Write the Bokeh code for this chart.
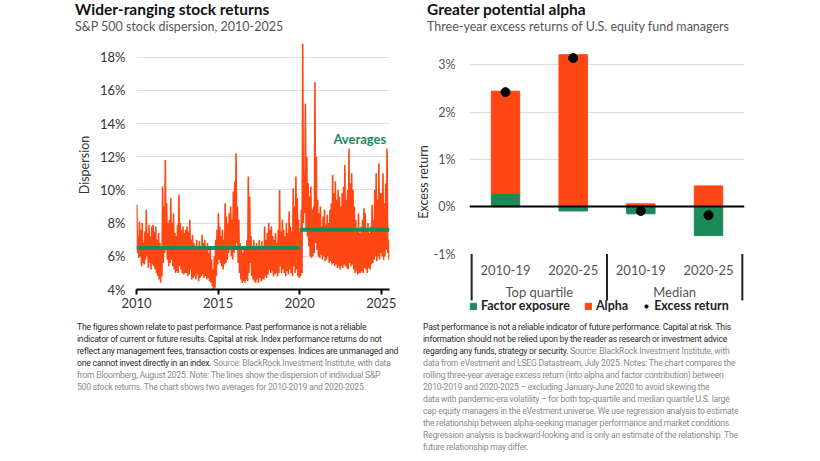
from bokeh.plotting import figure
from bokeh.models import (Range1d, FactorRange, FixedTicker, PrintfTickFormatter, Label,
                          Legend, LegendItem, Div, Spacer)
from bokeh.layouts import row, column
from bokeh.embed import file_html
from bokeh.resources import INLINE
from bokeh.core.properties import value

ORANGE = "#FF4713"
GREEN = "#1A8A5A"
FONT = "Lato"
TXT = "#333333"

# ---------------- Left chart data: S&P 500 dispersion (%), monthly high / low ----------------
hi_2010 = [9.1, 7.2, 8.1, 7.6, 8.0, 6.8, 7.5, 8.8, 7.4, 7.9, 7.2, 7.8]
lo_2010 = [6.2, 5.9, 6.0, 5.4, 5.6, 5.5, 5.8, 6.0, 5.3, 5.6, 5.2, 5.5]
hi_2011 = [7.9, 7.5, 7.8, 7.0, 7.4, 6.8, 6.5, 10.2, 9.0, 11.8, 9.2, 8.0]
lo_2011 = [5.4, 5.2, 5.0, 4.8, 4.6, 4.4, 4.8, 5.6, 6.2, 6.5, 5.8, 5.4]
hi_2012 = [8.2, 9.5, 8.0, 8.6, 7.4, 7.2, 7.9, 9.7, 8.0, 7.6, 7.8, 7.4]
lo_2012 = [5.6, 5.8, 5.4, 5.2, 5.0, 5.1, 5.0, 5.4, 5.2, 5.0, 4.9, 5.0]
hi_2013 = [7.6, 7.8, 7.5, 8.2, 7.0, 7.3, 6.8, 6.6, 7.0, 6.5, 6.9, 6.4]
lo_2013 = [5.0, 4.8, 4.9, 5.2, 4.6, 4.7, 4.8, 4.6, 4.9, 4.5, 4.7, 4.8]
hi_2014 = [7.3, 6.8, 7.0, 6.5, 6.8, 6.2, 6.6, 5.8, 5.2, 6.0, 7.0, 7.6]
lo_2014 = [4.9, 4.7, 4.8, 4.6, 4.7, 4.5, 4.4, 4.2, 4.0, 4.1, 4.8, 5.5]
hi_2015 = [8.6, 7.8, 7.2, 7.6, 7.0, 9.2, 8.4, 8.0, 8.6, 9.0, 8.2, 9.9]
lo_2015 = [5.8, 5.6, 5.4, 5.2, 5.5, 5.6, 5.8, 6.2, 6.4, 6.0, 5.8, 6.2]
hi_2016 = [10.5, 12.2, 9.0, 8.2, 6.8, 6.5, 6.2, 6.6, 6.4, 7.0, 10.8, 9.6]
lo_2016 = [6.5, 6.8, 5.6, 5.0, 4.6, 4.4, 4.5, 4.4, 4.6, 4.5, 5.0, 5.6]
hi_2017 = [7.2, 6.6, 7.0, 6.5, 6.8, 6.4, 7.0, 6.6, 6.9, 6.5, 7.8, 7.0]
lo_2017 = [4.8, 4.6, 4.5, 4.4, 4.6, 4.4, 4.7, 4.5, 4.6, 4.6, 4.8, 4.7]
hi_2018 = [7.4, 8.0, 7.6, 7.8, 7.2, 7.0, 7.4, 6.8, 7.6, 10.0, 7.5, 8.2]
lo_2018 = [4.9, 5.2, 5.0, 5.1, 4.8, 4.9, 5.0, 4.8, 5.0, 5.4, 5.0, 5.2]
hi_2019 = [7.6, 7.2, 8.0, 7.4, 8.7, 7.8, 7.5, 10.1, 9.0, 10.8, 9.5, 8.2]
lo_2019 = [5.0, 4.8, 5.1, 4.9, 5.2, 5.0, 4.8, 5.4, 5.0, 5.2, 4.8, 4.7]
hi_2020 = [7.5, 8.8, 18.8, 11.0, 15.2, 12.0, 10.4, 9.6, 10.2, 8.8, 9.0, 16.5]
lo_2020 = [4.8, 5.0, 8.0, 8.6, 7.6, 7.2, 6.6, 6.0, 5.9, 6.0, 6.2, 6.8]
hi_2021 = [12.0, 9.4, 8.6, 9.0, 7.8, 8.4, 8.8, 7.9, 8.5, 8.0, 8.8, 9.2]
lo_2021 = [6.4, 6.0, 5.9, 6.1, 5.8, 6.0, 5.7, 5.8, 6.0, 5.6, 5.7, 5.5]
hi_2022 = [10.9, 9.8, 10.5, 9.4, 10.0, 9.6, 9.0, 9.8, 10.2, 11.5, 9.4, 10.0]
lo_2022 = [5.6, 5.4, 5.5, 5.3, 5.4, 5.2, 5.4, 5.3, 5.5, 5.4, 5.3, 5.2]
hi_2023 = [12.5, 10.4, 11.0, 10.0, 9.0, 8.2, 7.6, 8.6, 7.4, 7.8, 8.2, 8.9]
lo_2023 = [5.6, 5.4, 5.5, 5.2, 5.0, 5.1, 4.9, 5.0, 5.0, 5.1, 5.0, 5.3]
hi_2024 = [8.6, 7.6, 8.0, 7.4, 7.8, 9.1, 8.2, 10.0, 11.0, 9.4, 11.6, 9.8]
lo_2024 = [5.2, 5.0, 5.3, 5.2, 5.5, 5.6, 5.8, 6.0, 5.7, 6.0, 5.8, 6.2]
hi_2025 = [9.8, 11.0, 9.2, 10.4, 12.5, 7.0]
lo_2025 = [6.0, 5.8, 6.0, 6.4, 6.2, 5.8]

avg_start = [2010, 2020]
avg_end = [2020, 2025.5]
avg_value = [6.5, 7.6]

year_ticks = [2010, 2015, 2020, 2025]
disp_ticks = [4, 6, 8, 10, 12, 14, 16, 18]

# ---------------- Right chart data ----------------
groups = ["Top quartile", "Median"]
periods = ["2010-19", "2020-25"]
factor_exposure = [0.28, -0.09, -0.15, -0.61]
alpha = [2.16, 3.21, 0.06, 0.44]
excess_return = [2.42, 3.14, -0.09, -0.18]
ret_ticks = [-1, 0, 1, 2, 3]

# ---------------- Build left series ----------------
hi_all = (hi_2010 + hi_2011 + hi_2012 + hi_2013 + hi_2014 + hi_2015 + hi_2016 + hi_2017 +
          hi_2018 + hi_2019 + hi_2020 + hi_2021 + hi_2022 + hi_2023 + hi_2024 + hi_2025)
lo_all = (lo_2010 + lo_2011 + lo_2012 + lo_2013 + lo_2014 + lo_2015 + lo_2016 + lo_2017 +
          lo_2018 + lo_2019 + lo_2020 + lo_2021 + lo_2022 + lo_2023 + lo_2024 + lo_2025)
xs, ys = [], []
for m, (h, l) in enumerate(zip(hi_all, lo_all)):
    t = 2010 + m / 12.0
    xs += [t + 0.2 / 12, t + 0.7 / 12]
    ys += [h, l]


def style_axis(ax, size="13px", color=TXT):
    ax.major_label_text_font = FONT
    ax.major_label_text_font_size = size
    ax.major_label_text_color = color
    ax.axis_label_text_font = FONT
    ax.axis_label_text_font_size = "12.5px"
    ax.axis_label_text_font_style = "normal"
    ax.axis_label_text_color = TXT
    ax.minor_tick_line_color = None


FIG_H = 292
TITLE_H = 34

# ---------------- Left figure ----------------
p1 = figure(width=330, height=FIG_H, x_range=Range1d(2010, 2025.5), y_range=Range1d(4, 19),
            output_backend="svg", toolbar_location=None, title=None,
            min_border_left=62, min_border_right=15, min_border_top=6, min_border_bottom=37)
p1.line(xs, ys, line_color=ORANGE, line_width=1.6)
p1.segment(x0=avg_start, y0=avg_value, x1=avg_end, y1=avg_value, line_color=GREEN, line_width=4)
p1.add_layout(Label(x=2025.3, y=13.05, text="Averages", text_align="right", text_baseline="middle",
                    text_font=FONT, text_font_size="13px", text_font_style="bold", text_color=GREEN))

p1.outline_line_color = None
p1.xgrid.visible = False
p1.ygrid.grid_line_color = "#dedede"
p1.ygrid.ticker = FixedTicker(ticks=disp_ticks[1:])
for ax in (p1.xaxis[0], p1.yaxis[0]):
    style_axis(ax)
p1.xaxis.ticker = FixedTicker(ticks=year_ticks)
p1.xaxis.formatter = PrintfTickFormatter(format="%d")
p1.xaxis.axis_line_color = "black"
p1.xaxis.axis_line_width = 2
p1.xaxis.major_tick_line_color = "black"
p1.xaxis.major_tick_line_width = 2
p1.xaxis.major_tick_in = 0
p1.xaxis.major_tick_out = 5
p1.xaxis.major_label_standoff = 3
p1.yaxis.ticker = FixedTicker(ticks=disp_ticks)
p1.yaxis.formatter = PrintfTickFormatter(format="%d%%")
p1.yaxis.axis_line_color = None
p1.yaxis.major_tick_line_color = None
p1.yaxis.major_label_standoff = 5
p1.yaxis.axis_label = "Dispersion"

# ---------------- Right figure ----------------
factors = [(g, pr) for g in groups for pr in periods]
alpha_bottom = [max(f, 0) for f in factor_exposure]
alpha_top = [b + a for b, a in zip(alpha_bottom, alpha)]

p2 = figure(width=355, height=FIG_H,
            x_range=FactorRange(*factors, factor_padding=0, group_padding=0,
                                range_padding=0.032, range_padding_units="absolute"),
            y_range=Range1d(-2.256, 3.3),
            output_backend="svg", toolbar_location=None, title=None,
            min_border_left=65, min_border_right=15, min_border_top=16, min_border_bottom=13)
r_factor = p2.vbar(x=factors, bottom=0, top=factor_exposure, width=0.42, color=GREEN)
r_alpha = p2.vbar(x=factors, bottom=alpha_bottom, top=alpha_top, width=0.42, color=ORANGE)
p2.hspan(y=[0], line_color="black", line_width=2)
r_dot = p2.scatter(x=factors, y=excess_return, size=9, color="black")

sep_x = [(groups[0], periods[0], -0.5), (groups[0], periods[1], 0.5), (groups[1], periods[1], 0.5)]
p2.segment(x0=sep_x, y0=[-1] * 3, x1=sep_x, y1=[-1.98] * 3, line_color="#222222", line_width=2)
p2.text(x=factors, y=[-1.33] * 4, text=[pr for g in groups for pr in periods],
        text_align="center", text_baseline="middle", text_font=value(FONT),
        text_font_size="13px", text_color="#555555")
p2.text(x=groups, y=[-1.81] * 2, text=groups, text_align="center", text_baseline="middle",
        text_font=value(FONT), text_font_size="13px", text_color="#555555")

p2.outline_line_color = None
p2.xaxis.visible = False
p2.xgrid.visible = False
p2.ygrid.grid_line_color = "#dedede"
p2.ygrid.ticker = FixedTicker(ticks=[t for t in ret_ticks if t > 0])
style_axis(p2.yaxis[0], "12.5px", "#555555")
p2.yaxis.ticker = FixedTicker(ticks=ret_ticks)
p2.yaxis.formatter = PrintfTickFormatter(format="%d%%")
p2.yaxis.axis_line_color = None
p2.yaxis.major_tick_line_color = None
p2.yaxis.major_label_standoff = 8
p2.yaxis.axis_label_standoff = 0
p2.yaxis.axis_label = "Excess return"

legend = Legend(items=[LegendItem(label="Factor exposure", renderers=[r_factor]),
                       LegendItem(label="Alpha", renderers=[r_alpha]),
                       LegendItem(label="Excess return", renderers=[r_dot])],
                orientation="horizontal", location=(0, 0), glyph_width=8, glyph_height=8,
                label_height=12, label_standoff=4, spacing=14, padding=0, margin=0,
                border_line_color=None, background_fill_alpha=0,
                label_text_font=FONT, label_text_font_size="12.5px", label_text_font_style="bold",
                label_text_color="#222222")
p2.add_layout(legend)

# ---------------- Titles ----------------
def title_html(title, subtitle, pad):
    return (f'<div style="font-family:Lato,sans-serif;margin:0;padding:0 0 0 {pad}px;white-space:nowrap;">'
            f'<div style="font-size:15.5px;font-weight:bold;line-height:19px;color:#111111">{title}</div>'
            f'<div style="font-size:12.5px;line-height:15px;color:#555555">{subtitle}</div></div>')


t1 = Div(text=title_html("Wider-ranging stock returns", "S&amp;P 500 stock dispersion, 2010-2025", 1),
         width=330, height=TITLE_H, margin=0)
t2 = Div(text=title_html("Greater potential alpha", "Three-year excess returns of U.S. equity fund managers", 23),
         width=355, height=TITLE_H, margin=0)

# ---------------- Footnotes ----------------
DARK = "#2a2a2a"
GREY = "#8a8a8a"


def note_html(dark, grey, pad):
    style = ("font-family:Roboto,'Liberation Sans',sans-serif;font-size:8.6px;line-height:12px;"
             f"letter-spacing:-0.22px;white-space:nowrap;margin:-5px 0 0 0;padding-left:{pad}px;")
    html = "<br>".join(dark)
    html = f'<span style="color:{DARK}">{html}</span>'
    html += f'<span style="color:{GREY}">{grey[0]}<br>' + "<br>".join(grey[1:]) + "</span>"
    return f'<div style="{style}">{html}</div>'


left_dark = ["The figures shown relate to past performance. Past performance is not a reliable",
             "indicator of current or future results. Capital at risk. Index performance returns do not",
             "reflect any management fees, transaction costs or expenses. Indices are unmanaged and",
             "one cannot invest directly in an index."]
left_grey = [" Source: BlackRock Investment Institute, with data",
             "from Bloomberg, August 2025. Note: The lines show the dispersion of individual S&amp;P",
             "500 stock returns. The chart shows two averages for 2010-2019 and 2020-2025."]
right_dark = ["Past performance is not a reliable indicator of future performance. Capital at risk. This",
              "information should not be relied upon by the reader as research or investment advice",
              "regarding any funds, strategy or security."]
right_grey = [" Source: BlackRock Investment Institute, with",
              "data from eVestment and LSEG Datastream, July 2025. Notes: The chart compares the",
              "rolling three-year average excess return (into alpha and factor contribution) between",
              "2010-2019 and 2020-2025 \u2013 excluding January-June 2020 to avoid skewing the",
              "data with pandemic-era volatility \u2013 for both top-quartile and median quartile U.S. large",
              "cap equity managers in the eVestment universe. We use regression analysis to estimate",
              "the relationship between alpha-seeking manager performance and market conditions.",
              "Regression analysis is backward-looking and is only an estimate of the relationship. The",
              "future relationship may differ."]

d1 = Div(text=note_html(left_dark, left_grey, 3), width=330, height=127, margin=0)
d2 = Div(text=note_html(right_dark, right_grey, 19), width=355, height=127, margin=0)

layout = row(Spacer(width=74, height=10), column(t1, p1, d1), column(t2, p2, d2))

with open("out.html", "w") as f:
    f.write(file_html(layout, INLINE))
